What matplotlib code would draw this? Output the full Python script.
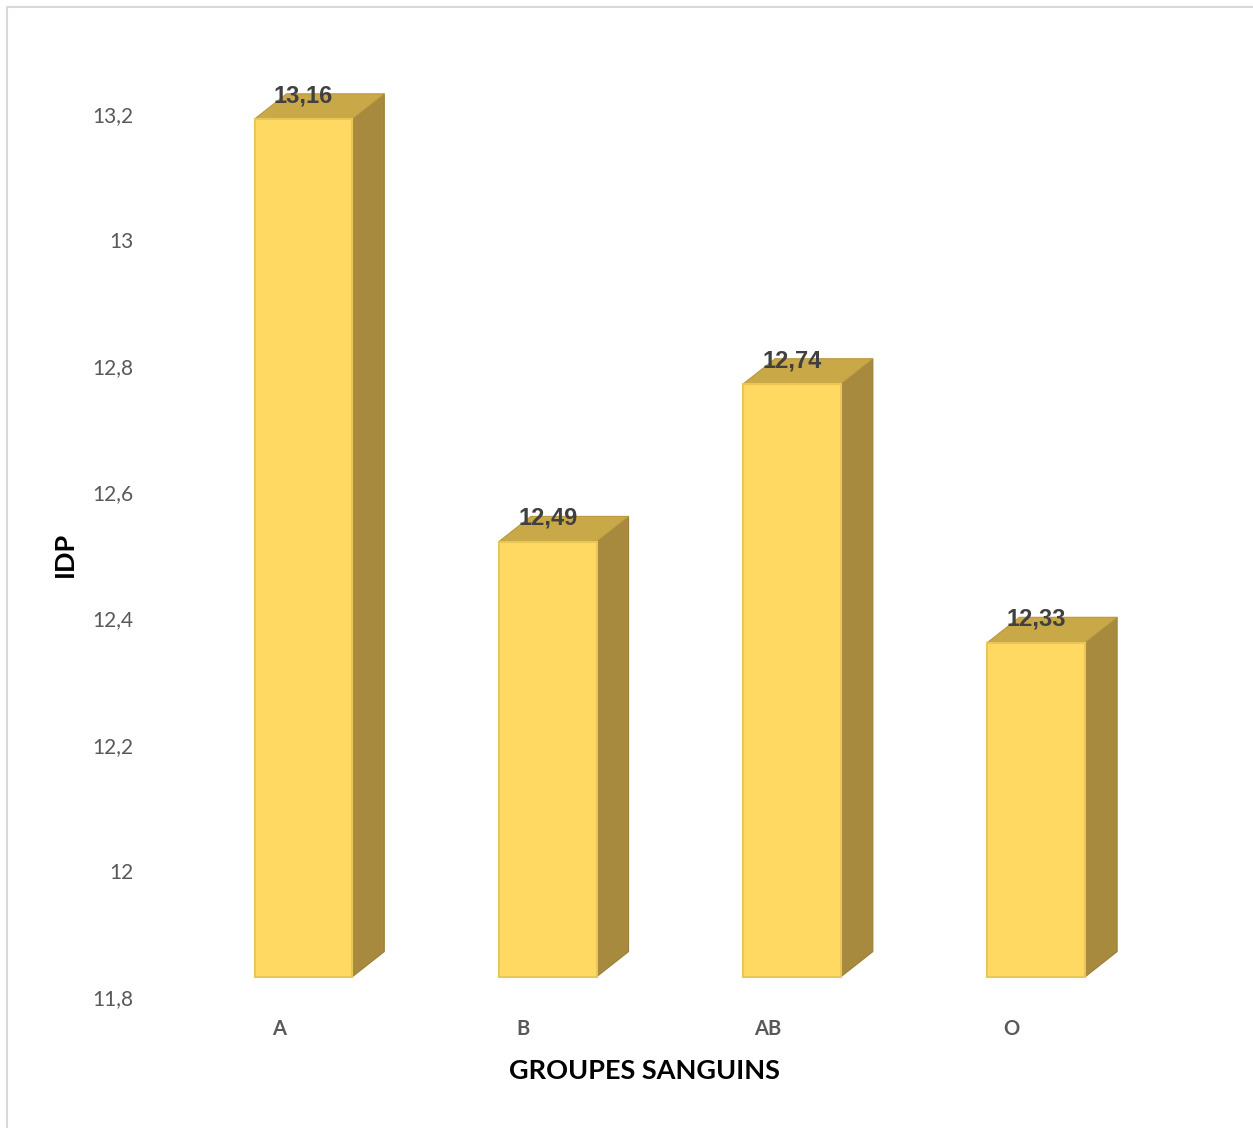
import matplotlib.pyplot as plt
from matplotlib.patches import Polygon, Rectangle

groupes = ['A', 'B', 'AB', 'O']
idp = [13.16, 12.49, 12.74, 12.33]
labels = ['13,16', '12,49', '12,74', '12,33']
yticks = [11.8, 12.0, 12.2, 12.4, 12.6, 12.8, 13.0, 13.2]
ytick_labels = ['11,8', '12', '12,2', '12,4', '12,6', '12,8', '13', '13,2']

base = 11.8
# fake 3D geometry (data units)
off = 0.10      # bars sit right of the category label
w = 0.40
dx = 0.131
dy = 0.040
lift = 0.032    # front face raised above the floor

front_c = '#FFD961'
side_c = '#A78A3D'
top_c = '#C9A848'

fig = plt.figure(figsize=(12.53, 11.28), dpi=100)
fig.patches.append(Rectangle((7 / 1253, -0.01), 1.02, 1 - 7 / 1128 + 0.01,
                             transform=fig.transFigure, fill=False,
                             edgecolor='#D9D9D9', linewidth=1.5))
ax = fig.add_axes([150 / 1253, 131 / 1128, 1090 / 1253, 883 / 1128])

for i, v in enumerate(idp):
    x0 = i + off - w / 2
    x1 = i + off + w / 2
    y0 = base + lift
    y1 = v + lift
    side = [(x1, y0), (x1 + dx, y0 + dy), (x1 + dx, y1 + dy), (x1, y1)]
    top = [(x0, y1), (x1, y1), (x1 + dx, y1 + dy), (x0 + dx, y1 + dy)]
    ax.add_patch(Polygon(side, closed=True, facecolor=side_c,
                         edgecolor='#9A7F36', linewidth=0.8, clip_on=False))
    ax.add_patch(Polygon(top, closed=True, facecolor=top_c,
                         edgecolor='#B8993F', linewidth=0.8, clip_on=False))
    ax.add_patch(Rectangle((x0, y0), w, y1 - y0, facecolor=front_c,
                           edgecolor='#E9C658', linewidth=1.5, clip_on=False))
    ax.text(i + off, y1 + dy - 0.003, labels[i], ha='center', va='center',
            fontsize=17, fontweight='bold', color='#404040',
            family='Liberation Sans')

ax.set_xlim(-0.528, 3.934)
ax.set_ylim(11.8, 13.2)
ax.set_xticks(range(len(groupes)))
ax.set_xticklabels(groupes, fontsize=14.5, fontweight='bold', color='#595959',
                   family='Lato')
ax.set_yticks(yticks)
ax.set_yticklabels(ytick_labels, fontsize=15, color='#595959', family='Lato')
ax.tick_params(axis='both', length=0)
ax.tick_params(axis='y', pad=12)
ax.tick_params(axis='x', pad=16)
for s in ax.spines.values():
    s.set_visible(False)

fig.text(644 / 1253, 1 - 1071 / 1128, 'GROUPES SANGUINS', ha='center',
         va='center', fontsize=19.5, fontweight='bold', color='black',
         family='Lato')
fig.text(65 / 1253, 1 - 554 / 1128, 'IDP', ha='center', va='center',
         rotation=90, fontsize=19.5, fontweight='bold', color='black',
         family='Lato')

fig.savefig('out.png', dpi=100)
